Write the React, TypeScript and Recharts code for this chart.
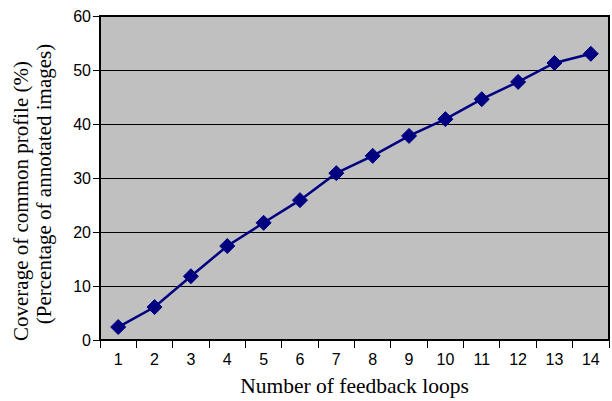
import { LineChart, Line, XAxis, YAxis, CartesianGrid, ReferenceArea } from "recharts";

const loops = [1, 2, 3, 4, 5, 6, 7, 8, 9, 10, 11, 12, 13, 14];
const coverage = [2.4, 6.1, 11.8, 17.4, 21.7, 25.9, 30.9, 34.1, 37.8, 40.9, 44.6, 47.8, 51.3, 53.0];
const yTicks = [0, 10, 20, 30, 40, 50, 60];
const boundaries = [0.5, 1.5, 2.5, 3.5, 4.5, 5.5, 6.5, 7.5, 8.5, 9.5, 10.5, 11.5, 12.5, 13.5, 14.5];

const data = loops.map((n, i) => ({ n, v: coverage[i] }));

const NAVY = "#000080";
const sans = "'Liberation Sans', Arial, sans-serif";
const serif = "'Liberation Serif', 'Times New Roman', serif";

const Diamond = (props: any) => {
  const { cx, cy } = props;
  if (cx == null || cy == null) return null;
  const r = 7.5;
  return (
    <polygon
      points={`${cx},${cy - r} ${cx + r},${cy} ${cx},${cy + r} ${cx - r},${cy}`}
      fill={NAVY}
      stroke={NAVY}
    />
  );
};

// two-line rotated y title
const YTitle = () => (
  <g>
    <text x={28} y={201} transform="rotate(-90 28 201)" textAnchor="middle" fontFamily={serif} fontSize={21} fill="#000">
      Coverage of common profile (%)
    </text>
    <text x={51} y={184} transform="rotate(-90 51 184)" textAnchor="middle" fontFamily={serif} fontSize={21} fill="#000">
      (Percentage of annotated images)
    </text>
  </g>
);

export default function App() {
  return (
    <div style={{ position: "absolute", left: 0, top: 0, background: "#fff" }}>
      <LineChart width={612} height={401} data={data} margin={{ top: 16, right: 3, left: 0, bottom: 0 }}>
        <CartesianGrid
          horizontal
          vertical={false}
          stroke="#000"
          strokeWidth={1}
          fill="#c0c0c0"
          fillOpacity={1}
          shapeRendering="crispEdges"
        />
        <XAxis
          xAxisId="b"
          dataKey="n"
          type="number"
          domain={[0.5, 14.5]}
          ticks={boundaries}
          tickFormatter={() => ""}
          tickSize={8}
          height={8}
          axisLine={{ stroke: "#000", strokeWidth: 2 }}
          tickLine={{ stroke: "#000", shapeRendering: "crispEdges" }}
          allowDataOverflow
        />
        <XAxis
          xAxisId="lab"
          dataKey="n"
          type="number"
          domain={[0.5, 14.5]}
          ticks={loops}
          axisLine={false}
          tickLine={false}
          tickSize={0}
          tickMargin={6}
          height={53}
          interval={0}
          tick={{ fontFamily: sans, fontSize: 16, fill: "#000" }}
          label={{ value: "Number of feedback loops", position: "insideBottom", offset: 8, fontFamily: serif, fontSize: 21.5, fill: "#000" }}
          allowDataOverflow
        />
        <YAxis
          domain={[0, 60]}
          ticks={yTicks}
          width={100}
          tickSize={7}
          tickMargin={2}
          axisLine={{ stroke: "#000", strokeWidth: 2 }}
          tickLine={{ stroke: "#000", shapeRendering: "crispEdges" }}
          tick={{ fontFamily: sans, fontSize: 16, fill: "#000" }}
          label={{ content: <YTitle /> } as any}
        />
        <ReferenceArea xAxisId="b" x1={0.5} x2={14.5} y1={0} y2={60} fill="none" fillOpacity={0} stroke="#000" strokeWidth={2} ifOverflow="visible" />
        <Line
          xAxisId="b"
          dataKey="v"
          stroke={NAVY}
          strokeWidth={2.5}
          dot={<Diamond />}
          activeDot={false}
          isAnimationActive={false}
        />
      </LineChart>
    </div>
  );
}
